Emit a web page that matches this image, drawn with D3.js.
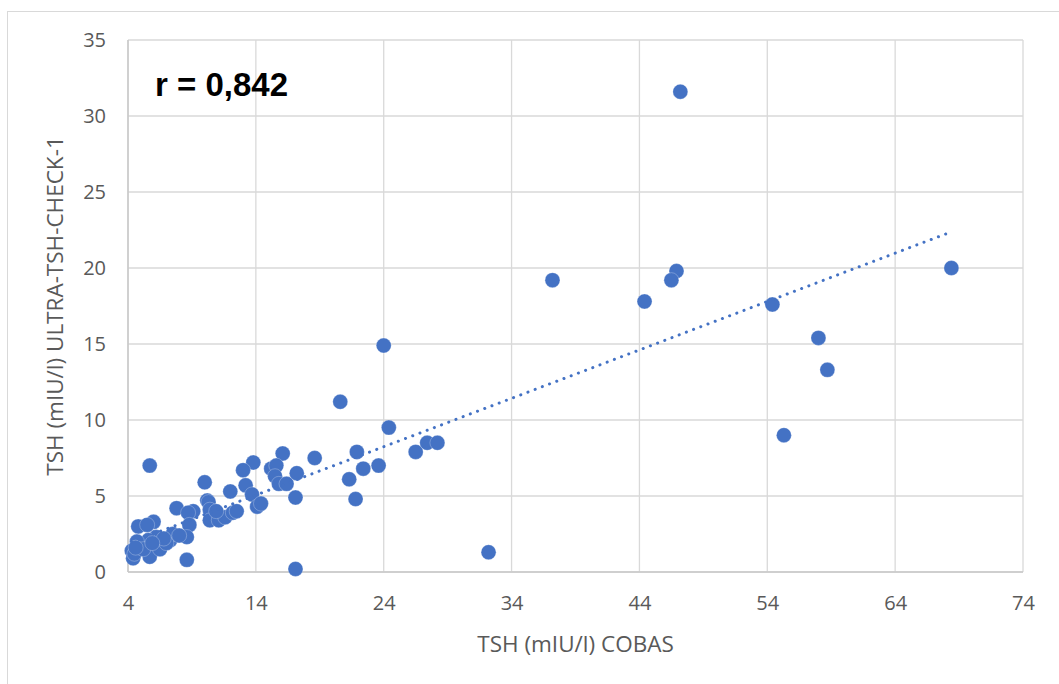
<!DOCTYPE html>
<html>
<head>
<meta charset="utf-8">
<script src="https://cdn.jsdelivr.net/npm/d3@7"></script>
<style>
  body { margin: 0; background: #fff; }
</style>
</head>
<body>
<div id="chart"></div>
<script>
// values
const cobas = [47.2, 37.2, 44.4, 46.9, 46.5, 68.4, 54.4, 58.0, 58.7, 55.3, 32.2, 24.0, 20.6, 24.4, 26.5, 27.4, 28.2, 23.6, 22.4, 21.9, 21.3, 21.8, 18.6, 17.1, 17.2, 16.1, 15.2, 15.6, 15.5, 15.8, 16.4, 13.8, 13.0, 13.2, 13.7, 14.1, 14.4, 12.0, 10.0, 10.2, 10.3, 10.4, 10.4, 11.1, 11.6, 12.2, 12.5, 9.1, 10.9, 17.1, 8.6, 5.7, 7.8, 8.7, 8.8, 8.6, 4.8, 6.0, 5.5, 4.3, 4.4, 5.7, 4.9, 6.2, 7.3, 7.5, 6.5, 7.0, 5.6, 4.7, 4.5, 5.2, 6.8, 8.0, 5.9, 4.6];
const ultra = [31.6, 19.2, 17.8, 19.8, 19.2, 20.0, 17.6, 15.4, 13.3, 9.0, 1.3, 14.9, 11.2, 9.5, 7.9, 8.5, 8.5, 7.0, 6.8, 7.9, 6.1, 4.8, 7.5, 4.9, 6.5, 7.8, 6.8, 7.0, 6.3, 5.8, 5.8, 7.2, 6.7, 5.7, 5.1, 4.3, 4.5, 5.3, 5.9, 4.7, 4.6, 4.1, 3.4, 3.4, 3.6, 3.9, 4.0, 4.0, 4.0, 0.2, 0.8, 7.0, 4.2, 3.9, 3.1, 2.3, 3.0, 3.3, 3.1, 1.4, 0.9, 1.0, 1.7, 2.3, 2.1, 2.5, 1.5, 1.9, 2.1, 2.0, 1.2, 1.5, 2.2, 2.4, 1.9, 1.6];
const xTicks = [4, 14, 24, 34, 44, 54, 64, 74];
const yTicks = [0, 5, 10, 15, 20, 25, 30, 35];
// linear trendline
const trendSlope = 0.3184;
const trendIntercept = 0.6;
const rLabel = 'r = 0,842';

const width = 1059,
  height = 684;
const margin = { top: 40, right: 36, bottom: 112, left: 128 };

const svg = d3
  .select('#chart')
  .append('svg')
  .attr('width', width)
  .attr('height', height);

// chart border (only top/left visible in the crop)
svg
  .append('rect')
  .attr('x', 7.5)
  .attr('y', 11.5)
  .attr('width', width + 20)
  .attr('height', height + 20)
  .attr('fill', 'none')
  .attr('stroke', '#d9d9d9');

const xScale = d3
  .scaleLinear()
  .domain([4, 74])
  .range([margin.left, width - margin.right]);
const yScale = d3
  .scaleLinear()
  .domain([0, 35])
  .range([height - margin.bottom, margin.top]);

const grid = svg.append('g').attr('stroke', '#d9d9d9').attr('stroke-width', 1.3);
grid
  .selectAll('.vgrid')
  .data(xTicks)
  .enter()
  .append('line')
  .attr('x1', (d) => xScale(d))
  .attr('x2', (d) => xScale(d))
  .attr('y1', yScale(35))
  .attr('y2', yScale(0));
grid
  .selectAll('.hgrid')
  .data(yTicks)
  .enter()
  .append('line')
  .attr('x1', xScale(4))
  .attr('x2', xScale(74))
  .attr('y1', (d) => yScale(d))
  .attr('y2', (d) => yScale(d));

// axis lines a touch darker
svg
  .append('line')
  .attr('x1', xScale(4))
  .attr('x2', xScale(74))
  .attr('y1', yScale(0))
  .attr('y2', yScale(0))
  .attr('stroke', '#c8c8c8')
  .attr('stroke-width', 1.5);
svg
  .append('line')
  .attr('x1', xScale(4))
  .attr('x2', xScale(4))
  .attr('y1', yScale(0))
  .attr('y2', yScale(35))
  .attr('stroke', '#c8c8c8')
  .attr('stroke-width', 1.5);

// tick labels via axes, lines hidden
const xAxis = d3.axisBottom(xScale).tickValues(xTicks).tickSize(0).tickPadding(24);
svg
  .append('g')
  .attr('transform', `translate(0,${yScale(0)})`)
  .call(xAxis)
  .call((g) => g.select('.domain').remove())
  .selectAll('text')
  .style('font-family', 'Open Sans')
  .style('font-size', '20px')
  .attr('fill', '#595959');

const yAxis = d3.axisLeft(yScale).tickValues(yTicks).tickSize(0).tickPadding(22);
svg
  .append('g')
  .attr('transform', `translate(${xScale(4)},0)`)
  .call(yAxis)
  .call((g) => g.select('.domain').remove())
  .selectAll('text')
  .style('font-family', 'Open Sans')
  .style('font-size', '20px')
  .attr('fill', '#595959');

// points
const points = cobas.map((d, i) => ({ x: d, y: ultra[i] }));
svg
  .append('g')
  .selectAll('circle')
  .data(points)
  .enter()
  .append('circle')
  .attr('cx', (d) => xScale(d.x))
  .attr('cy', (d) => yScale(d.y))
  .attr('r', 7.5)
  .attr('fill', '#4472c4')
  .attr('stroke', '#ffffff')
  .attr('stroke-opacity', 0.35)
  .attr('stroke-width', 0.75);

// dotted trendline over the data's x range
const trendX = d3.extent(cobas);
const line = d3
  .line()
  .x((d) => xScale(d))
  .y((d) => yScale(trendSlope * d + trendIntercept));
svg
  .append('path')
  .datum(trendX)
  .attr('d', line)
  .attr('fill', 'none')
  .attr('stroke', '#4472c4')
  .attr('stroke-width', 3)
  .attr('stroke-linecap', 'round')
  .attr('stroke-dasharray', '0.1 7.6');

// correlation label
svg
  .append('text')
  .attr('x', 155)
  .attr('y', 96)
  .style('font-family', 'Liberation Sans')
  .style('font-weight', 'bold')
  .style('font-size', '33px')
  .attr('fill', '#000')
  .text(rLabel);

// axis titles
svg
  .append('text')
  .attr('x', (xScale(4) + xScale(74)) / 2)
  .attr('y', 652)
  .attr('text-anchor', 'middle')
  .style('font-family', 'Open Sans')
  .style('font-size', '22.5px')
  .attr('fill', '#595959')
  .text('TSH (mIU/l) COBAS');

svg
  .append('text')
  .attr('transform', `translate(63,${(yScale(0) + yScale(35)) / 2}) rotate(-90)`)
  .attr('text-anchor', 'middle')
  .style('font-family', 'Open Sans')
  .style('font-size', '22.5px')
  .attr('fill', '#595959')
  .text('TSH (mIU/l) ULTRA-TSH-CHECK-1');
</script>
</body>
</html>
